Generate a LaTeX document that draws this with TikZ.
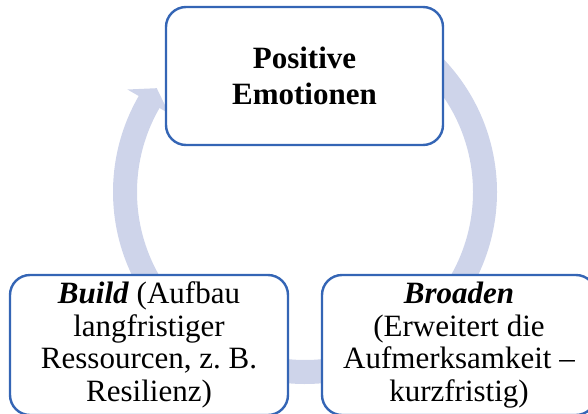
\documentclass[tikz,border=0pt]{standalone}
\usepackage{fontspec}
\setmainfont{Liberation Serif}
\usetikzlibrary{calc}
\definecolor{ringcol}{RGB}{206,212,234}
\definecolor{boxcol}{RGB}{52,101,181}
\begin{document}
\begin{tikzpicture}[x=1pt,y=1pt,
  ring/.style={draw=ringcol,line width=24pt},
  ringhead/.style={fill=ringcol},
  card/.style={draw=boxcol,line width=2.4pt,fill=white,rounded corners=20pt,
    align=center,inner sep=0pt,font=\fontsize{31pt}{32.7pt}\selectfont},
]
\useasboundingbox (0,0) rectangle (588,-413);
\coordinate (c) at (305,-192);
% right arc (top -> broaden)
\draw[ring] ($(c)+(60:180pt)$) arc[start angle=60,end angle=-45.5,radius=180pt];
\fill[ringhead] ($(c)+(-45:205pt)$) -- ($(c)+(-50:181pt)$) -- ($(c)+(-45:157pt)$) -- cycle;
% bottom arc (broaden -> build)
\draw[ring] ($(c)+(-70:180pt)$) arc[start angle=-70,end angle=-110.5,radius=180pt];
\fill[ringhead] ($(c)+(-110:205pt)$) -- ($(c)+(-115:181pt)$) -- ($(c)+(-110:157pt)$) -- cycle;
% left arc (build -> positive)
\draw[ring] ($(c)+(215:180pt)$) arc[start angle=215,end angle=149.5,radius=180pt];
\fill[ringhead] ($(c)+(150:205pt)$) -- ($(c)+(145:181pt)$) -- ($(c)+(150:157pt)$) -- cycle;
% boxes
\node[card,minimum width=277pt,minimum height=138pt,
  font=\fontsize{31pt}{36pt}\selectfont\bfseries] (pos) at (304.5,-76)
  {Positive\\Emotionen};
\node[card,minimum width=278pt,minimum height=140pt] (build) at (149,-345)
  {\textbf{\textit{Build}} (Aufbau\\langfristiger\\Ressourcen, z.\ B.\\Resilienz)};
\node[card,minimum width=274pt,minimum height=140pt] (broaden) at (459,-345)
  {\textbf{\textit{Broaden}}\\(Erweitert die\\Aufmerksamkeit –\\kurzfristig)};
\end{tikzpicture}
\end{document}
